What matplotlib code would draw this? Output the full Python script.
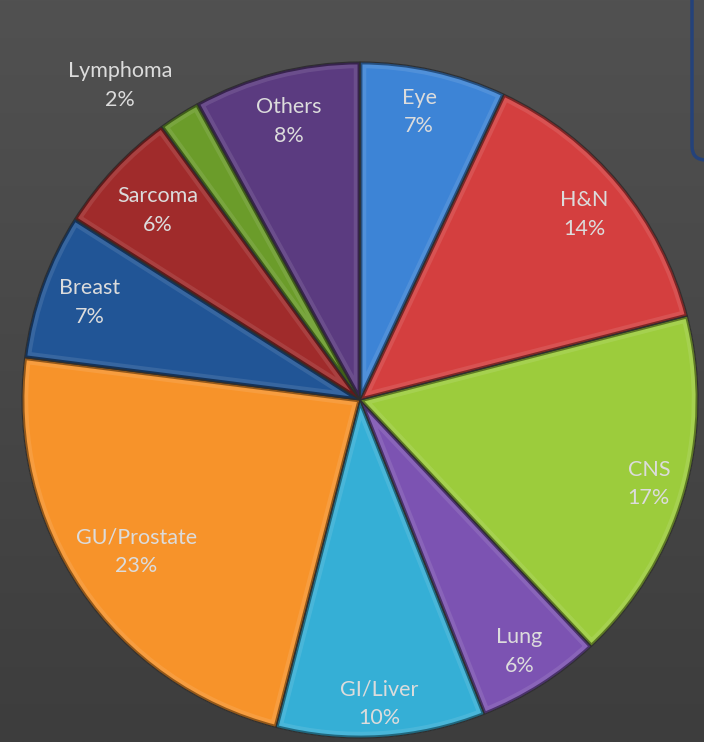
import numpy as np
import matplotlib
matplotlib.use("Agg")
import matplotlib.pyplot as plt
from matplotlib.colors import to_rgb
from matplotlib.patches import Wedge, FancyBboxPatch

# Share of cases by tumour site, clockwise from 12 o'clock
sites = ["Eye", "H&N", "CNS", "Lung", "GI/Liver", "GU/Prostate",
         "Breast", "Sarcoma", "Lymphoma", "Others"]
shares = [7, 14, 17, 6, 10, 23, 7, 6, 2, 8]
colors = ["#3d84d6", "#d43f3f", "#9ccc3c", "#7c53b2", "#35afd6", "#f7932a",
          "#215596", "#a02b2b", "#6b9c2a", "#5b3b80"]
# radial position of each label as a fraction of the radius,
# and an angular nudge in degrees
label_r = [0.87, 0.86, 0.89, 0.88, 0.90, 0.80, 0.85, 0.82, 1.17, 0.85]
label_dt = [1, 0, 0, 0, 0, 0, 0, 0, 5, 0]

W, H = 704, 742
fig = plt.figure(figsize=(W / 100, H / 100), dpi=100)
ax = fig.add_axes([0, 0, 1, 1])

# dark vertical gradient background
grad = np.linspace(0, 1, 256)[:, None]
top = np.array(to_rgb("#515151"))
bot = np.array(to_rgb("#3d3d3d"))
img = top * (1 - grad[..., None]) + bot * grad[..., None]
ax.imshow(img, extent=[0, W, 0, H], origin="upper", aspect="auto", zorder=0)

cx, cy, R = 360, H - 400, 338
wedges, _ = ax.pie(shares, colors=colors, startangle=90, counterclock=False,
                   center=(cx, cy), radius=R, frame=True,
                   wedgeprops=dict(linewidth=0))
ax.set_xlim(0, W)
ax.set_ylim(0, H)
ax.set_aspect("equal")
ax.axis("off")

# partially visible rounded legend frame at the top right
frame = FancyBboxPatch((692, H - 160), 100, 220,
                       boxstyle="round,pad=0,rounding_size=14",
                       fc="none", ec="#24427a", lw=2.5, zorder=1)
ax.add_patch(frame)

def shade(c, f):
    r = np.array(to_rgb(c))
    if f < 1:
        return tuple(r * f)
    return tuple(r + (1 - r) * (f - 1))

for w, c in zip(wedges, colors):
    w.set_zorder(2)
    # soft inner bevel: light rim then dark rim, clipped to the slice
    hi = Wedge(w.center, w.r, w.theta1, w.theta2, fc="none",
               ec=shade(c, 1.25), lw=9, alpha=0.4, zorder=3)
    ax.add_patch(hi)
    hi.set_clip_path(w)
    lo = Wedge(w.center, w.r, w.theta1, w.theta2, fc="none",
               ec=shade(c, 0.6), lw=3.5, zorder=4)
    ax.add_patch(lo)
    lo.set_clip_path(w)
    ax.add_patch(Wedge(w.center, w.r, w.theta1, w.theta2, fc="none",
                       ec="#2e2e2e", lw=0.8, zorder=5))

for w, name, val, f, dt in zip(wedges, sites, shares, label_r, label_dt):
    th = np.deg2rad((w.theta1 + w.theta2) / 2 + dt)
    x = cx + f * R * np.cos(th)
    y = cy + f * R * np.sin(th)
    ax.text(x, y, f"{name}\n{val}%", ha="center", va="center",
            fontsize=15.5, family="Lato", color="#dcdcdc",
            linespacing=1.55, zorder=6)

fig.savefig("out.png", dpi=100)
